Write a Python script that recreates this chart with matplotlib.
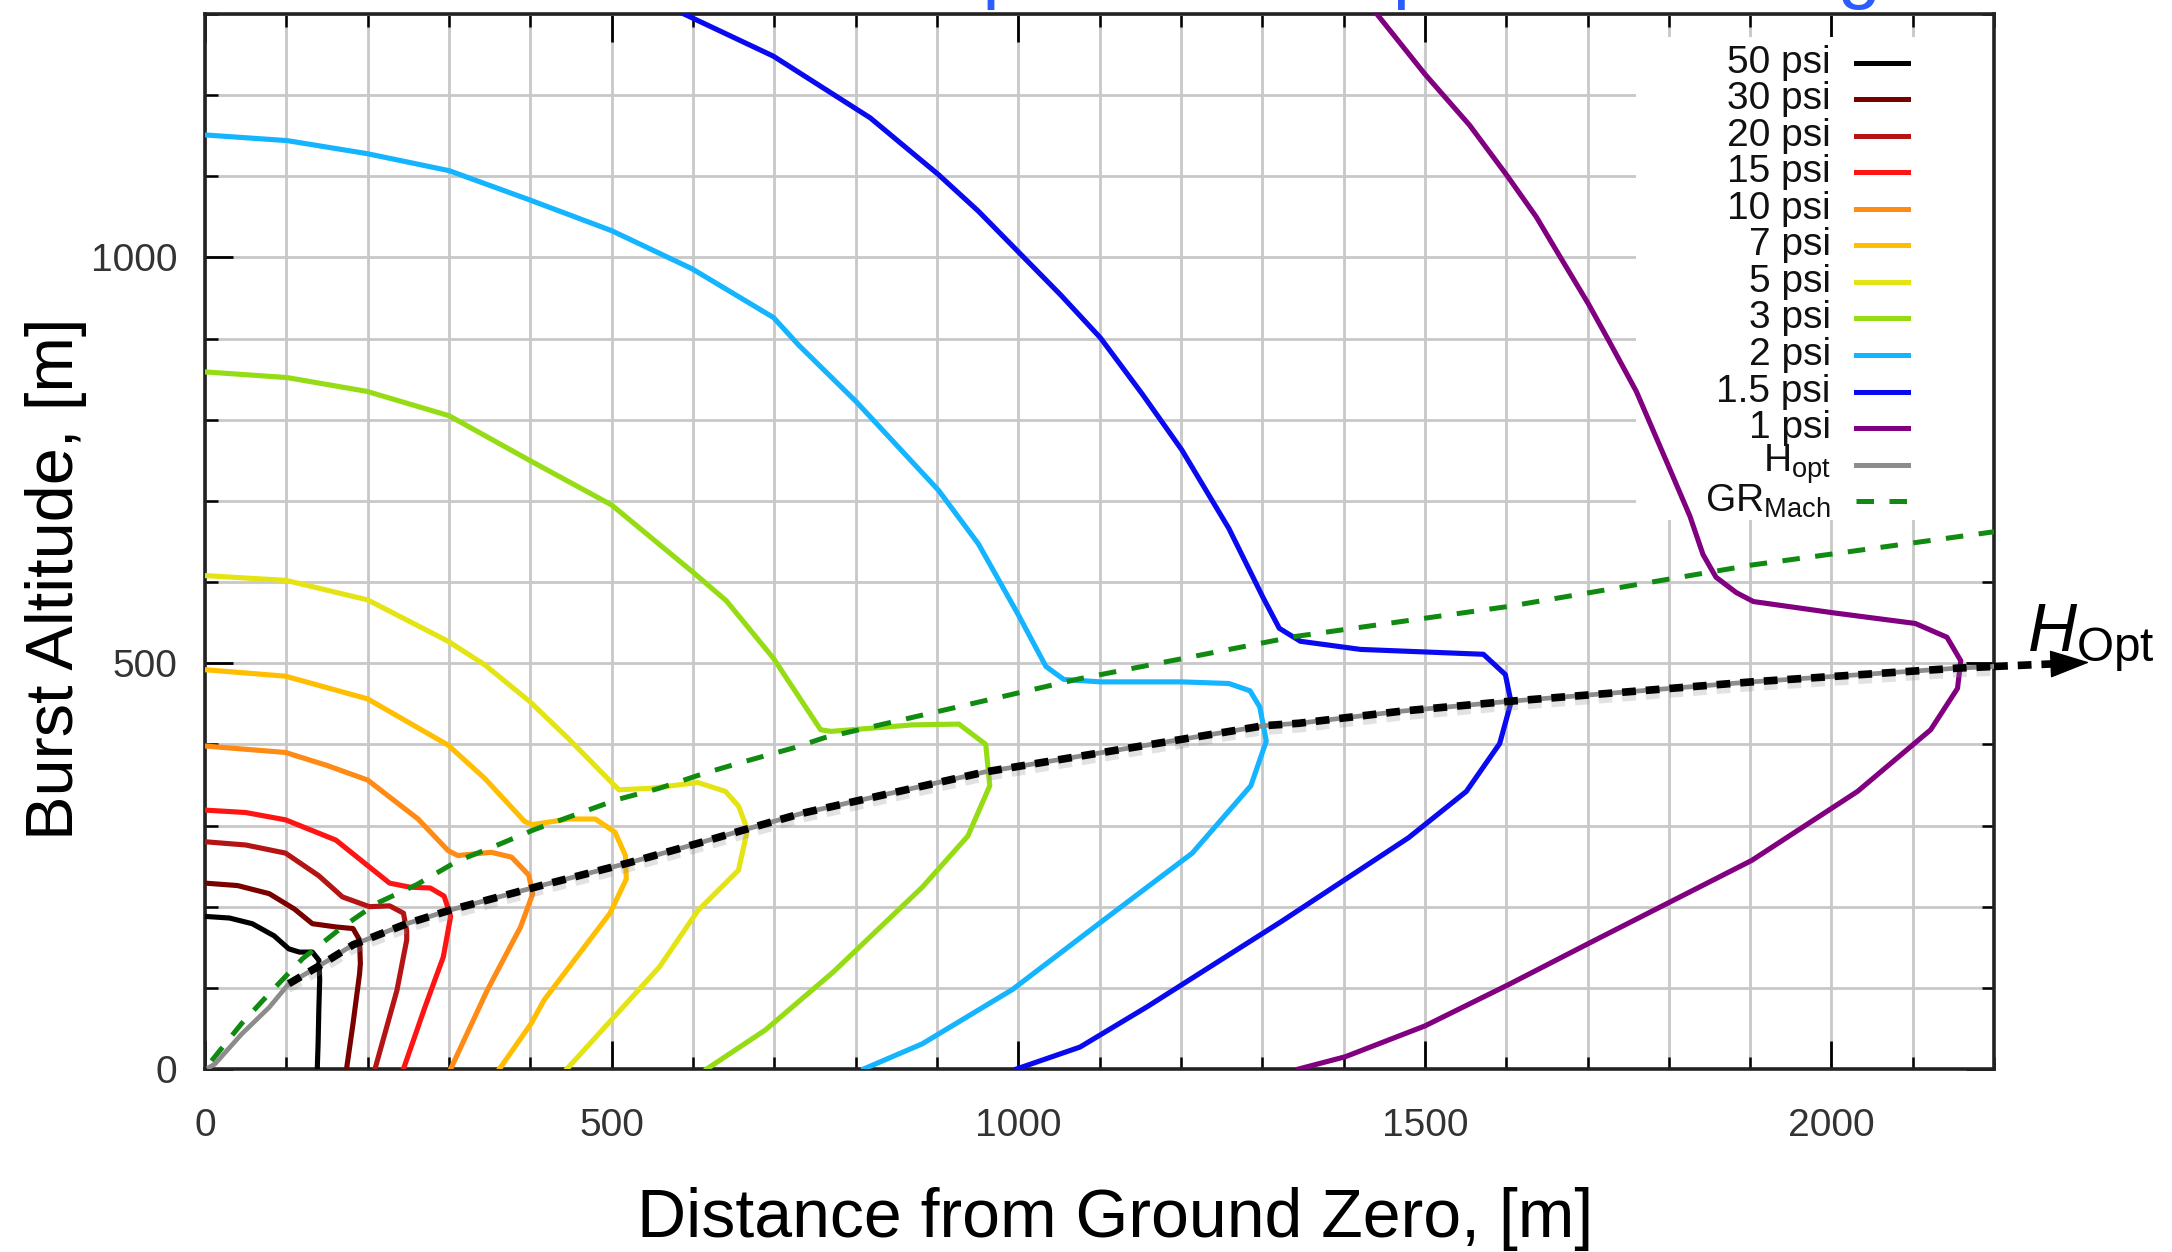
import matplotlib.pyplot as plt
import matplotlib.patheffects as pe
from matplotlib.patches import Rectangle
import numpy as np

plt.rcParams['font.family'] = ['Liberation Sans', 'DejaVu Sans']
plt.rcParams['mathtext.fontset'] = 'custom'
plt.rcParams['mathtext.rm'] = 'Liberation Sans'
plt.rcParams['mathtext.it'] = 'Liberation Sans:italic'

# Contour data: distance (m), burst altitude (m)
labels = ['50 psi', '30 psi', '20 psi', '15 psi', '10 psi', '7 psi',
          '5 psi', '3 psi', '2 psi', '1.5 psi', '1 psi']
colors = ['#000000', '#7a0000', '#b41414', '#ff1414', '#ff8a14', '#ffbe00',
          '#e4e414', '#96dc14', '#14b4ff', '#0a0af0', '#800080']

psi50_x = [0, 30, 58, 85, 103, 116, 132, 140, 141, 140, 139, 138]
psi50_y = [188, 186, 179, 164, 148, 144, 144, 134, 110, 76, 30, 0]

psi30_x = [0, 40, 79, 110, 132, 161, 182, 190, 191, 190, 182, 174]
psi30_y = [229, 226, 216, 197, 179, 175, 173, 159, 130, 117, 56, 0]

psi20_x = [0, 50, 99, 140, 169, 202, 227, 244, 248, 248, 236, 209]
psi20_y = [280, 276, 266, 238, 212, 200, 201, 192, 170, 159, 97, 0]

psi15_x = [0, 50, 99, 161, 202, 227, 252, 277, 294, 302, 293, 270, 244]
psi15_y = [319, 316, 307, 282, 249, 229, 224, 223, 213, 188, 138, 75, 0]

psi10_x = [0, 99, 150, 200, 262, 299, 311, 352, 377, 398, 403, 388, 347, 302]
psi10_y = [398, 390, 374, 356, 308, 269, 263, 267, 261, 239, 216, 175, 97, 0]

psi7_x = [0, 99, 200, 299, 344, 393, 402, 447, 480, 504, 517, 518, 498, 417, 401, 362]
psi7_y = [492, 484, 456, 399, 358, 305, 301, 308, 308, 292, 263, 234, 192, 85, 56, 0]

psi5_x = [0, 100, 200, 299, 344, 399, 447, 499, 509, 550, 606, 640, 656, 667, 656, 606, 559, 445]
psi5_y = [608, 602, 578, 527, 498, 453, 407, 354, 344, 346, 353, 342, 324, 295, 245, 195, 126, 0]

psi3_x = [0, 101, 199, 300, 399, 500, 599, 641, 699, 757, 770, 870, 927, 960, 965, 938, 882, 772, 689, 617]
psi3_y = [859, 852, 835, 805, 750, 695, 613, 577, 506, 418, 416, 424, 425, 400, 349, 287, 224, 119, 48, 0]

psi2_x = [0, 101, 199, 300, 399, 500, 599, 699, 730, 801, 902, 951, 1001, 1034, 1056, 1101, 1201,
          1259, 1285, 1297, 1305, 1286, 1214, 1103, 993, 882, 810]
psi2_y = [1151, 1144, 1128, 1107, 1071, 1033, 986, 926, 892, 822, 713, 647, 558, 496, 480, 477, 477,
          475, 466, 446, 404, 349, 266, 182, 98, 31, 0]

psi15b_x = [589, 699, 818, 902, 951, 1001, 1052, 1101, 1153, 1201, 1259, 1301, 1321, 1347, 1421,
            1572, 1599, 1606, 1592, 1551, 1480, 1324, 1159, 1076, 998]
psi15b_y = [1300, 1248, 1172, 1102, 1057, 1006, 954, 901, 831, 763, 666, 581, 543, 527, 517,
            511, 486, 452, 401, 342, 285, 182, 77, 27, 0]

psi1_x = [1441, 1500, 1555, 1601, 1637, 1662, 1701, 1727, 1760, 1800, 1826, 1842, 1858, 1883, 1904,
          2003, 2103, 2142, 2159, 2155, 2122, 2032, 1902, 1802, 1702, 1603, 1500, 1402, 1345]
psi1_y = [1300, 1226, 1163, 1101, 1050, 1008, 943, 896, 835, 742, 681, 634, 606, 587, 576,
          562, 549, 532, 503, 469, 418, 342, 257, 206, 155, 104, 53, 15, 0]

# optimum burst height curve and Mach reflection ground range
hopt_x = [5, 12, 45, 79, 103, 142, 182, 248, 302, 417, 521, 606, 664, 734, 959,
          1302, 1345, 1472, 1603, 1902, 2156, 2200]
hopt_y = [2, 6, 43, 76, 105, 128, 153, 179, 196, 227, 254, 278, 295, 315, 366,
          423, 426, 441, 453, 477, 494, 496]

mach_x = [8, 45, 79, 120, 169, 211, 260, 310, 355, 405, 460, 507, 559, 616, 664,
          725, 761, 1076, 1341, 1603, 1902, 2200]
mach_y = [10, 56, 93, 136, 175, 204, 227, 256, 274, 295, 315, 332, 346, 365, 379,
          396, 408, 481, 533, 570, 621, 662]

curves = [(psi50_x, psi50_y), (psi30_x, psi30_y), (psi20_x, psi20_y),
          (psi15_x, psi15_y), (psi10_x, psi10_y), (psi7_x, psi7_y),
          (psi5_x, psi5_y), (psi3_x, psi3_y), (psi2_x, psi2_y),
          (psi15b_x, psi15b_y), (psi1_x, psi1_y)]

fig = plt.figure(figsize=(21.72, 12.52), dpi=100)
ax = fig.add_axes([0.0944, 0.1462, 0.8237, 0.8426])

ax.set_xlim(0, 2200)
ax.set_ylim(0, 1300)
ax.set_xticks(np.arange(0, 2001, 500))
ax.set_yticks(np.arange(0, 1001, 500))
ax.set_xticks(np.arange(0, 2201, 100), minor=True)
ax.set_yticks(np.arange(0, 1301, 100), minor=True)
ax.set_axisbelow(True)
ax.grid(which='both', color='#c8c8c8', lw=2)

ax.tick_params(which='major', direction='in', length=20, width=2, top=True, right=True,
               labelsize=28, labelcolor='#333333')
ax.tick_params(which='minor', direction='in', length=9, width=1.8, top=True, right=True)
ax.tick_params(axis='x', pad=28)
ax.tick_params(axis='y', pad=20)
for s in ax.spines.values():
    s.set_linewidth(2.6)
    s.set_color('#222222')

# white key box hides the grid behind the key
ax.add_patch(Rectangle((0.8, 0.52), 0.2, 0.458, transform=ax.transAxes,
                       facecolor='white', edgecolor='none', zorder=1))

for (cx, cy), c in zip(curves, colors):
    ax.plot(cx, cy, color=c, lw=3.7, zorder=3, solid_joinstyle='round')

ax.plot(hopt_x, hopt_y, color='#8c8c8c', lw=3.4, zorder=4)
ax.plot(mach_x, mach_y, color='#108a10', lw=3.6, dashes=(3.5, 3.1), zorder=3.5)
ax.plot(hopt_x[4:], hopt_y[4:], color='black', lw=5.5, dashes=(1.8, 1.3), zorder=5,
        path_effects=[pe.SimpleLineShadow(offset=(0, -4), shadow_color='0.55', alpha=0.25),
                      pe.Normal()])

# arrow leaving the plot and H_Opt label
ax.plot([hopt_x[-1], 2280], [hopt_y[-1], 499.5], color='black', lw=5.5, dashes=(1.8, 1.3),
        clip_on=False, zorder=5)
ax.annotate('', xy=(2317, 501), xytext=(2282, 499.5), annotation_clip=False,
            arrowprops=dict(arrowstyle='-|>,head_length=1.0,head_width=0.35', color='black',
                            lw=1, shrinkA=0, shrinkB=0, mutation_scale=26))
ax.text(2241, 515, r'$H_{\mathrm{Opt}}$', fontsize=49, ha='left', va='baseline', clip_on=False)

# key
key_labels = labels + [r'H$_{\mathrm{opt}}$', r'GR$_{\mathrm{Mach}}$']
key_y0 = 0.954
key_dy = 0.03465
for i, lab in enumerate(key_labels):
    yk = key_y0 - i * key_dy
    ax.text(0.9087, yk, lab, transform=ax.transAxes, ha='right', va='center',
            fontsize=28, color='#111111', zorder=6)
    if i < len(labels):
        ax.plot([0.9226, 0.952], [yk, yk], transform=ax.transAxes, color=colors[i], lw=3.6, zorder=6)
    elif i == len(labels):
        ax.plot([0.9226, 0.952], [yk, yk], transform=ax.transAxes, color='#8c8c8c', lw=3.6, zorder=6)
    else:
        ax.plot([0.9226, 0.952], [yk, yk], transform=ax.transAxes, color='#108a10', lw=3.6,
                dashes=(3.5, 3.1), zorder=6)

fig.text(0.5134, 0.012, 'Distance from Ground Zero, [m]', fontsize=49, ha='center', va='baseline')
fig.text(0.026, 0.538, 'Burst Altitude, [m]', fontsize=48, rotation=90, ha='center', va='center')

# cut-off blue heading above the plot
fig.text(0.375, 1.005, 'Overpressure depends on height', fontsize=56, color='#2a5cff',
         ha='left', va='baseline')

fig.savefig('out.png', dpi=100)
